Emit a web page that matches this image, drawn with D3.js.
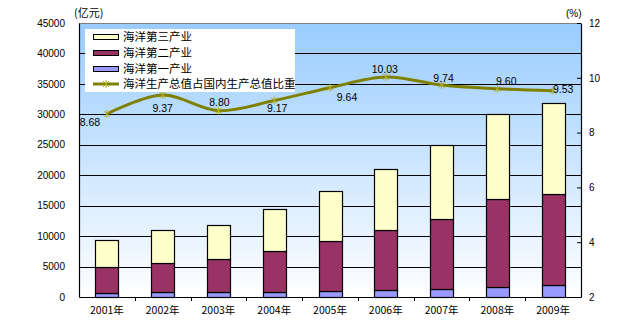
<!DOCTYPE html>
<html><head><meta charset="utf-8">
<script src="https://cdn.jsdelivr.net/npm/d3@7"></script>
<style>
html,body{margin:0;padding:0;background:#fff;}
svg text{font-family:"Liberation Sans",Arial,sans-serif;}
.cjk{font-family:"Noto Sans CJK SC","Liberation Sans",sans-serif;}
</style></head>
<body><svg id="c" width="636" height="335"></svg>
<script>
const years = ["2001年","2002年","2003年","2004年","2005年","2006年","2007年","2008年","2009年"];
const primary = [610, 775, 790, 800, 940, 1100, 1265, 1595, 1925];
const secondary = [4885, 5545, 6200, 7515, 9160, 10970, 12780, 16070, 16890];
const totals = [9330, 10970, 11795, 14425, 17385, 21000, 24885, 30050, 31860];
const ratio = [8.68, 9.37, 8.80, 9.17, 9.64, 10.03, 9.74, 9.60, 9.53];
const ratioLabels = ["8.68","9.37","8.80","9.17","9.64","10.03","9.74","9.60","9.53"];
const leftTicks = [0,5000,10000,15000,20000,25000,30000,35000,40000,45000];
const rightTicks = [2,4,6,8,10,12];
const seriesNames = ["海洋第三产业","海洋第二产业","海洋第一产业","海洋生产总值占国内生产总值比重"];
const colors = {third:"#FFFFCC", second:"#993366", first:"#9999FF", line:"#808000"};
// label placement offsets (dx, dy) relative to point
const labelPos = [[-17,8],[0,13],[1,-9],[3,7],[17,9],[-1,-8],[2,-7],[9,-8],[10,-2]];

const svg = d3.select("#c");
const L=79, R=581, T=23, B=297;
const x = d3.scaleBand().domain(years).range([L,R]).paddingInner(0.59).paddingOuter(0.295);
const xb = d3.scaleBand().domain(years).range([L,R]);
const y = d3.scaleLinear().domain([0,45000]).range([B,T]);
const y2 = d3.scaleLinear().domain([2,12]).range([B,T]);

const defs = svg.append("defs");
const g = defs.append("linearGradient").attr("id","bg").attr("x1",0).attr("y1",0).attr("x2",0).attr("y2",1);
g.append("stop").attr("offset","0%").attr("stop-color","#99CCFF");
g.append("stop").attr("offset","100%").attr("stop-color","#FFFFFF");

svg.append("rect").attr("x",L).attr("y",T).attr("width",R-L).attr("height",B-T).attr("fill","url(#bg)");
// top border
svg.append("line").attr("x1",L).attr("x2",R).attr("y1",T+0.5).attr("y2",T+0.5).attr("stroke","#808080");
// gridlines
svg.selectAll(".grid").data(leftTicks.filter(d=>d>0&&d<45000)).enter().append("line")
  .attr("x1",L).attr("x2",R).attr("y1",d=>Math.round(y(d))+0.5).attr("y2",d=>Math.round(y(d))+0.5)
  .attr("stroke","#000").attr("stroke-width",1.2);

// bars
const stacks = years.map((yr,i)=>({yr, segs:[[0,primary[i],colors.first],[primary[i],secondary[i],colors.second],[secondary[i],totals[i],colors.third]]}));
stacks.forEach(s=>{
  s.segs.forEach(([a,b,c])=>{
    svg.append("rect").attr("x",Math.round(x(s.yr))+0.5).attr("width",Math.round(x.bandwidth()))
      .attr("y",Math.round(y(b))+0.5).attr("height",Math.round(y(a))-Math.round(y(b)))
      .attr("fill",c).attr("stroke","#000").attr("stroke-width",1.2);
  });
});

// axes
const axL = svg.append("g").attr("transform",`translate(${L},0)`)
  .call(d3.axisLeft(y).tickValues(leftTicks).tickSize(0).tickPadding(14).tickFormat(d3.format("d")));
axL.select(".domain").attr("stroke","#000").attr("stroke-width",1.2);
axL.selectAll("text").attr("font-size",10).attr("fill","#000");

const axR = svg.append("g").attr("transform",`translate(${R},0)`)
  .call(d3.axisRight(y2).tickValues(rightTicks).tickSize(0).tickPadding(8).tickFormat(d3.format("d")));
axR.select(".domain").attr("stroke","#000").attr("stroke-width",1.2);
axR.selectAll("text").attr("font-size",10).attr("fill","#000");
axR.selectAll(".tick").append("line").attr("x1",-4).attr("x2",0).attr("stroke","#000");

const axB = svg.append("g").attr("transform",`translate(0,${B})`)
  .call(d3.axisBottom(xb).tickSize(0).tickPadding(10));
axB.select(".domain").attr("stroke","#000").attr("stroke-width",1.2);
axB.selectAll("text").attr("class","cjk").attr("font-size",10.5).attr("fill","#000");
svg.selectAll(".btick").data(years.slice(1)).enter().append("line")
  .attr("x1",d=>Math.round(xb(d))+0.5).attr("x2",d=>Math.round(xb(d))+0.5)
  .attr("y1",B).attr("y2",B+4).attr("stroke","#000");

// units
svg.append("text").attr("class","cjk").attr("x",74).attr("y",17).attr("font-size",11).text("(亿元)");
svg.append("text").attr("x",566).attr("y",17).attr("font-size",10).text("(%)");

// line
const cx = d=>xb(d)+xb.bandwidth()/2;
const line = d3.line().x((d,i)=>cx(years[i])).y(d=>y2(d)).curve(d3.curveCatmullRom.alpha(0.5));
svg.append("path").datum(ratio).attr("d",line).attr("fill","none").attr("stroke",colors.line).attr("stroke-width",3);
function marker(sel,px,py){
  sel.append("path").attr("d",`M${px-3},${py-3}L${px+3},${py+3}M${px-3},${py+3}L${px+3},${py-3}M${px},${py-4}L${px},${py+4}`)
    .attr("stroke","#B0B020").attr("stroke-width",1);
}
ratio.forEach((v,i)=>marker(svg,cx(years[i]),y2(v)));
ratio.forEach((v,i)=>{
  svg.append("text").attr("x",cx(years[i])+labelPos[i][0]).attr("y",y2(v)+labelPos[i][1]+4)
    .attr("text-anchor","middle").attr("font-size",10.5).attr("fill","#000").text(ratioLabels[i]);
});

// legend
const lg = svg.append("g");
lg.append("rect").attr("x",85).attr("y",29).attr("width",210).attr("height",63).attr("fill","#fff");
const rows=[37,53,69,84];
[colors.third,colors.second,colors.first].forEach((c,i)=>{
  lg.append("rect").attr("x",93.5).attr("y",rows[i]-2.5).attr("width",25).attr("height",5).attr("fill",c).attr("stroke","#000");
});
lg.append("line").attr("x1",93).attr("x2",119).attr("y1",rows[3]).attr("y2",rows[3]).attr("stroke",colors.line).attr("stroke-width",3);
marker(lg,106,rows[3]);
seriesNames.forEach((n,i)=>{
  lg.append("text").attr("class","cjk").attr("x",123).attr("y",rows[i]+4).attr("font-size",11.5).attr("fill","#000").text(n);
});
</script></body></html>
